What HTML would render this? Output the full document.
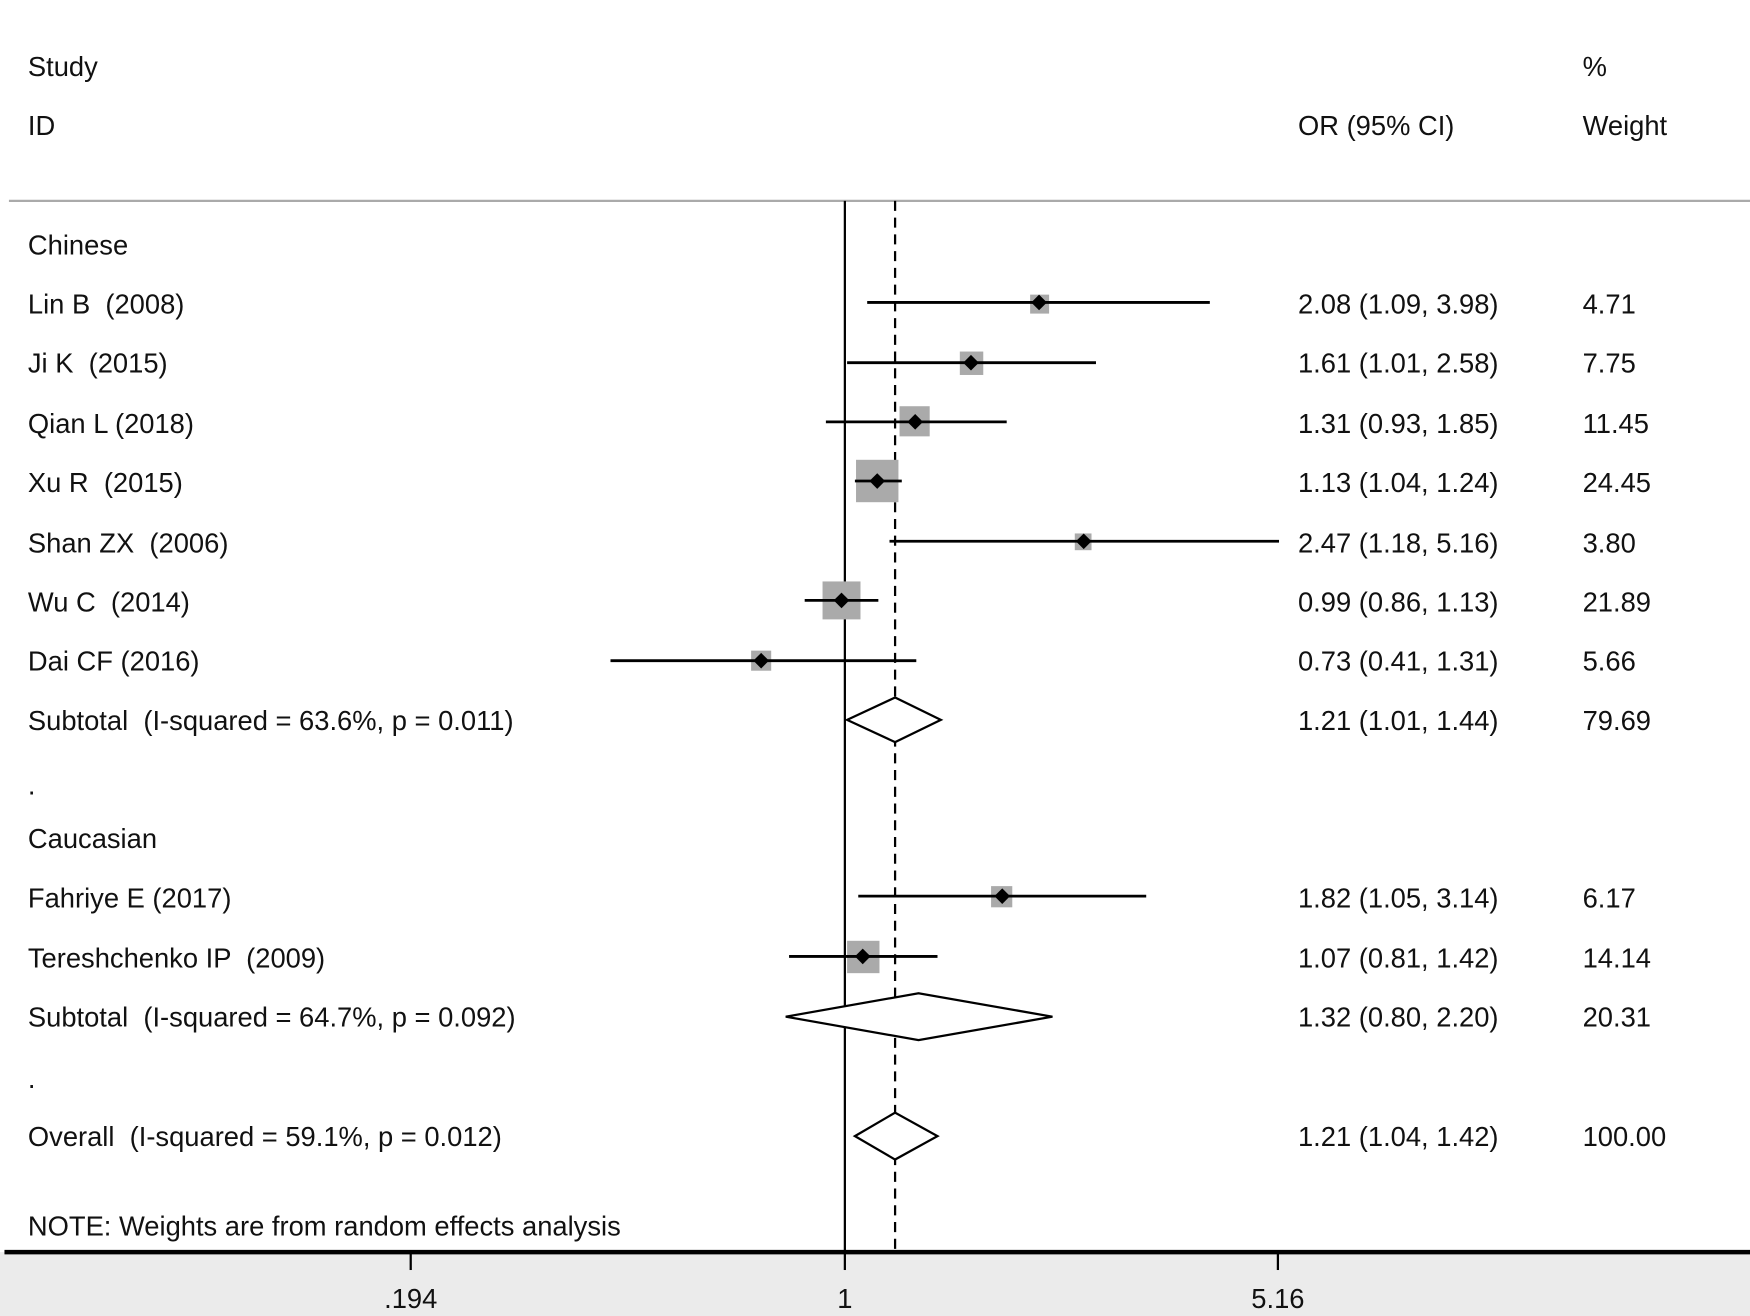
<!DOCTYPE html>
<html><head><meta charset="utf-8"><style>
html,body{margin:0;padding:0;background:#fff;}
svg{display:block}
text{font-family:"Liberation Sans",Arial,sans-serif;font-size:24.5px;fill:#111;white-space:pre;}
</style></head><body>
<svg width="1750" height="1316" viewBox="0 0 1568 1179.2" preserveAspectRatio="none" xmlns="http://www.w3.org/2000/svg" xml:space="preserve">
<rect x="0" y="0" width="1568" height="1180" fill="#fff"/>
<rect x="0" y="1122" width="1568" height="58" fill="#ebebeb"/>
<line x1="8" y1="180" x2="1568" y2="180" stroke="#aaa" stroke-width="2"/>
<text x="25" y="68">Study</text>
<text x="25" y="121">ID</text>
<text x="1163" y="121">OR (95% CI)</text>
<text x="1418" y="68">%</text>
<text x="1418" y="121">Weight</text>

<line x1="757" y1="180" x2="757" y2="1124" stroke="#000" stroke-width="2"/>
<line x1="802" y1="180" x2="802" y2="1124" stroke="#000" stroke-width="2" stroke-dasharray="9,6"/>

<text x="25" y="228">Chinese</text>

<text x="25" y="281">Lin B  (2008)</text><text x="1163" y="281">2.08 (1.09, 3.98)</text><text x="1418" y="281">4.71</text>
<rect x="923" y="264" width="17" height="17" fill="#aaa"/>
<line x1="777" y1="271" x2="1084" y2="271" stroke="#000" stroke-width="2.5"/>
<polygon points="931,264 938,271 931,278 924,271" fill="#000"/>

<text x="25" y="334">Ji K  (2015)</text><text x="1163" y="334">1.61 (1.01, 2.58)</text><text x="1418" y="334">7.75</text>
<rect x="860" y="315" width="21" height="21" fill="#aaa"/>
<line x1="759" y1="325" x2="982" y2="325" stroke="#000" stroke-width="2.5"/>
<polygon points="870,318 877,325 870,332 863,325" fill="#000"/>

<text x="25" y="388">Qian L (2018)</text><text x="1163" y="388">1.31 (0.93, 1.85)</text><text x="1418" y="388">11.45</text>
<rect x="806" y="364" width="27" height="27" fill="#aaa"/>
<line x1="740" y1="378" x2="902" y2="378" stroke="#000" stroke-width="2.5"/>
<polygon points="820,371 827,378 820,385 813,378" fill="#000"/>

<text x="25" y="441">Xu R  (2015)</text><text x="1163" y="441">1.13 (1.04, 1.24)</text><text x="1418" y="441">24.45</text>
<rect x="767" y="412" width="38" height="38" fill="#aaa"/>
<line x1="766" y1="431" x2="808" y2="431" stroke="#000" stroke-width="2.5"/>
<polygon points="786,424 793,431 786,438 779,431" fill="#000"/>

<text x="25" y="495">Shan ZX  (2006)</text><text x="1163" y="495">2.47 (1.18, 5.16)</text><text x="1418" y="495">3.80</text>
<rect x="963" y="478" width="15" height="15" fill="#aaa"/>
<line x1="797" y1="485" x2="1146" y2="485" stroke="#000" stroke-width="2.5"/>
<polygon points="971,478 978,485 971,492 964,485" fill="#000"/>

<text x="25" y="548">Wu C  (2014)</text><text x="1163" y="548">0.99 (0.86, 1.13)</text><text x="1418" y="548">21.89</text>
<rect x="737" y="521" width="34" height="34" fill="#aaa"/>
<line x1="721" y1="538" x2="787" y2="538" stroke="#000" stroke-width="2.5"/>
<polygon points="754,531 761,538 754,545 747,538" fill="#000"/>

<text x="25" y="601">Dai CF (2016)</text><text x="1163" y="601">0.73 (0.41, 1.31)</text><text x="1418" y="601">5.66</text>
<rect x="673" y="583" width="18" height="18" fill="#aaa"/>
<line x1="547" y1="592" x2="821" y2="592" stroke="#000" stroke-width="2.5"/>
<polygon points="682,585 689,592 682,599 675,592" fill="#000"/>

<text x="25" y="654">Subtotal  (I-squared = 63.6%, p = 0.011)</text><text x="1163" y="654">1.21 (1.01, 1.44)</text><text x="1418" y="654">79.69</text>
<polygon points="759,645 802,625 843,645 802,665" fill="#fff" stroke="#000" stroke-width="2"/>

<text x="25" y="712">.</text>
<text x="25" y="760">Caucasian</text>

<text x="25" y="813">Fahriye E (2017)</text><text x="1163" y="813">1.82 (1.05, 3.14)</text><text x="1418" y="813">6.17</text>
<rect x="888" y="794" width="19" height="19" fill="#aaa"/>
<line x1="769" y1="803" x2="1027" y2="803" stroke="#000" stroke-width="2.5"/>
<polygon points="898,796 905,803 898,810 891,803" fill="#000"/>

<text x="25" y="867">Tereshchenko IP  (2009)</text><text x="1163" y="867">1.07 (0.81, 1.42)</text><text x="1418" y="867">14.14</text>
<rect x="759" y="843" width="29" height="29" fill="#aaa"/>
<line x1="707" y1="857" x2="840" y2="857" stroke="#000" stroke-width="2.5"/>
<polygon points="773,850 780,857 773,864 766,857" fill="#000"/>

<text x="25" y="920">Subtotal  (I-squared = 64.7%, p = 0.092)</text><text x="1163" y="920">1.32 (0.80, 2.20)</text><text x="1418" y="920">20.31</text>
<polygon points="704,911 823,890 943,911 823,932" fill="#fff" stroke="#000" stroke-width="2"/>

<text x="25" y="975">.</text>

<text x="25" y="1027">Overall  (I-squared = 59.1%, p = 0.012)</text><text x="1163" y="1027">1.21 (1.04, 1.42)</text><text x="1418" y="1027">100.00</text>
<polygon points="766,1018 802,997 840,1018 802,1039" fill="#fff" stroke="#000" stroke-width="2"/>

<text x="25" y="1107">NOTE: Weights are from random effects analysis</text>

<line x1="4" y1="1122" x2="1568" y2="1122" stroke="#000" stroke-width="4"/>
<line x1="368" y1="1122" x2="368" y2="1138" stroke="#000" stroke-width="2"/>
<line x1="757" y1="1122" x2="757" y2="1138" stroke="#000" stroke-width="2"/>
<line x1="1145" y1="1122" x2="1145" y2="1138" stroke="#000" stroke-width="2"/>
<text x="368" y="1172" text-anchor="middle">.194</text>
<text x="757" y="1172" text-anchor="middle">1</text>
<text x="1145" y="1172" text-anchor="middle">5.16</text>
</svg>
</body></html>
